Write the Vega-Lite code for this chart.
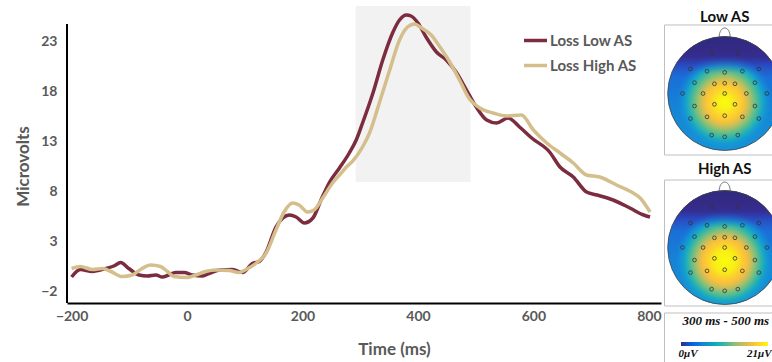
{
  "$schema": "https://vega.github.io/schema/vega-lite/v6.json",
  "padding": {"left": 14, "top": 0, "right": 0, "bottom": 0},
  "spacing": 2,
  "config": {
    "view": {"stroke": null},
    "font": "Lato",
    "axisX": {"domainColor": "#000000", "domainWidth": 2, "ticks": false, "grid": false, "labelFont": "Lato", "labelFontSize": 14, "labelFontWeight": "bold", "labelColor": "#595959", "labelPadding": 6, "titleFont": "Lato", "titleFontSize": 17, "titleFontWeight": "bold", "titleColor": "#595959", "titlePadding": 18},
    "axisY": {"domain": false, "ticks": false, "grid": false, "labelFont": "Lato", "labelFontSize": 14, "labelFontWeight": "bold", "labelColor": "#595959", "labelPadding": 10, "titleFont": "Lato", "titleFontSize": 17, "titleFontWeight": "bold", "titleColor": "#595959"}
  },
  "datasets": {
    "erp": [
      {"s": "Loss Low AS", "t": -200, "v": -0.6}, {"s": "Loss Low AS", "t": -185, "v": 0.15}, {"s": "Loss Low AS", "t": -164, "v": -0.05}, {"s": "Loss Low AS", "t": -141, "v": 0.25}, {"s": "Loss Low AS", "t": -127, "v": 0.5}, {"s": "Loss Low AS", "t": -115, "v": 0.85}, {"s": "Loss Low AS", "t": -101, "v": 0.25}, {"s": "Loss Low AS", "t": -83, "v": -0.4}, {"s": "Loss Low AS", "t": -69, "v": -0.5}, {"s": "Loss Low AS", "t": -54, "v": -0.4}, {"s": "Loss Low AS", "t": -43, "v": -0.6}, {"s": "Loss Low AS", "t": -32, "v": -0.4}, {"s": "Loss Low AS", "t": -20, "v": -0.15}, {"s": "Loss Low AS", "t": -5, "v": -0.15}, {"s": "Loss Low AS", "t": 9, "v": -0.4}, {"s": "Loss Low AS", "t": 27, "v": -0.5}, {"s": "Loss Low AS", "t": 38, "v": -0.25}, {"s": "Loss Low AS", "t": 56, "v": 0.1}, {"s": "Loss Low AS", "t": 79, "v": 0.15}, {"s": "Loss Low AS", "t": 96, "v": -0.15}, {"s": "Loss Low AS", "t": 113, "v": 0.75}, {"s": "Loss Low AS", "t": 125, "v": 0.95}, {"s": "Loss Low AS", "t": 137, "v": 1.9}, {"s": "Loss Low AS", "t": 154, "v": 4.4}, {"s": "Loss Low AS", "t": 166, "v": 5.3}, {"s": "Loss Low AS", "t": 177, "v": 5.6}, {"s": "Loss Low AS", "t": 189, "v": 5.4}, {"s": "Loss Low AS", "t": 203, "v": 4.8}, {"s": "Loss Low AS", "t": 218, "v": 5.3}, {"s": "Loss Low AS", "t": 232, "v": 7.1}, {"s": "Loss Low AS", "t": 247, "v": 8.9}, {"s": "Loss Low AS", "t": 264, "v": 10.3}, {"s": "Loss Low AS", "t": 281, "v": 11.8}, {"s": "Loss Low AS", "t": 293, "v": 13.1}, {"s": "Loss Low AS", "t": 304, "v": 14.8}, {"s": "Loss Low AS", "t": 322, "v": 17.8}, {"s": "Loss Low AS", "t": 339, "v": 21.1}, {"s": "Loss Low AS", "t": 356, "v": 23.8}, {"s": "Loss Low AS", "t": 368, "v": 25.1}, {"s": "Loss Low AS", "t": 380, "v": 25.6}, {"s": "Loss Low AS", "t": 388, "v": 25.5}, {"s": "Loss Low AS", "t": 400, "v": 24.8}, {"s": "Loss Low AS", "t": 414, "v": 23.4}, {"s": "Loss Low AS", "t": 432, "v": 21.9}, {"s": "Loss Low AS", "t": 449, "v": 21.1}, {"s": "Loss Low AS", "t": 466, "v": 19.9}, {"s": "Loss Low AS", "t": 484, "v": 18.1}, {"s": "Loss Low AS", "t": 501, "v": 16.4}, {"s": "Loss Low AS", "t": 519, "v": 15.1}, {"s": "Loss Low AS", "t": 536, "v": 14.8}, {"s": "Loss Low AS", "t": 556, "v": 15.3}, {"s": "Loss Low AS", "t": 576, "v": 14.4}, {"s": "Loss Low AS", "t": 597, "v": 13.3}, {"s": "Loss Low AS", "t": 628, "v": 11.9}, {"s": "Loss Low AS", "t": 646, "v": 10.4}, {"s": "Loss Low AS", "t": 669, "v": 9.4}, {"s": "Loss Low AS", "t": 692, "v": 7.9}, {"s": "Loss Low AS", "t": 710, "v": 7.6}, {"s": "Loss Low AS", "t": 738, "v": 7.1}, {"s": "Loss Low AS", "t": 767, "v": 6.3}, {"s": "Loss Low AS", "t": 791, "v": 5.6}, {"s": "Loss Low AS", "t": 802, "v": 5.4},
      {"s": "Loss High AS", "t": -200, "v": 0.25}, {"s": "Loss High AS", "t": -185, "v": 0.45}, {"s": "Loss High AS", "t": -164, "v": 0.15}, {"s": "Loss High AS", "t": -146, "v": 0.25}, {"s": "Loss High AS", "t": -132, "v": -0.05}, {"s": "Loss High AS", "t": -112, "v": -0.55}, {"s": "Loss High AS", "t": -95, "v": -0.4}, {"s": "Loss High AS", "t": -78, "v": 0.25}, {"s": "Loss High AS", "t": -63, "v": 0.6}, {"s": "Loss High AS", "t": -46, "v": 0.45}, {"s": "Loss High AS", "t": -34, "v": -0.05}, {"s": "Loss High AS", "t": -23, "v": -0.55}, {"s": "Loss High AS", "t": 1, "v": -0.65}, {"s": "Loss High AS", "t": 15, "v": -0.4}, {"s": "Loss High AS", "t": 32, "v": -0.05}, {"s": "Loss High AS", "t": 50, "v": 0.1}, {"s": "Loss High AS", "t": 73, "v": 0.05}, {"s": "Loss High AS", "t": 90, "v": -0.15}, {"s": "Loss High AS", "t": 102, "v": 0.15}, {"s": "Loss High AS", "t": 119, "v": 0.75}, {"s": "Loss High AS", "t": 137, "v": 1.8}, {"s": "Loss High AS", "t": 154, "v": 4.1}, {"s": "Loss High AS", "t": 168, "v": 5.9}, {"s": "Loss High AS", "t": 183, "v": 6.8}, {"s": "Loss High AS", "t": 194, "v": 6.6}, {"s": "Loss High AS", "t": 209, "v": 5.9}, {"s": "Loss High AS", "t": 220, "v": 6.1}, {"s": "Loss High AS", "t": 235, "v": 7.3}, {"s": "Loss High AS", "t": 252, "v": 8.8}, {"s": "Loss High AS", "t": 264, "v": 9.6}, {"s": "Loss High AS", "t": 276, "v": 10.4}, {"s": "Loss High AS", "t": 287, "v": 11.0}, {"s": "Loss High AS", "t": 304, "v": 12.4}, {"s": "Loss High AS", "t": 316, "v": 13.8}, {"s": "Loss High AS", "t": 333, "v": 16.8}, {"s": "Loss High AS", "t": 351, "v": 20.1}, {"s": "Loss High AS", "t": 368, "v": 23.1}, {"s": "Loss High AS", "t": 382, "v": 24.4}, {"s": "Loss High AS", "t": 394, "v": 24.7}, {"s": "Loss High AS", "t": 406, "v": 24.3}, {"s": "Loss High AS", "t": 423, "v": 23.6}, {"s": "Loss High AS", "t": 438, "v": 22.4}, {"s": "Loss High AS", "t": 455, "v": 20.9}, {"s": "Loss High AS", "t": 472, "v": 19.1}, {"s": "Loss High AS", "t": 487, "v": 17.4}, {"s": "Loss High AS", "t": 507, "v": 16.3}, {"s": "Loss High AS", "t": 530, "v": 15.8}, {"s": "Loss High AS", "t": 553, "v": 15.5}, {"s": "Loss High AS", "t": 579, "v": 15.6}, {"s": "Loss High AS", "t": 600, "v": 14.1}, {"s": "Loss High AS", "t": 623, "v": 12.8}, {"s": "Loss High AS", "t": 646, "v": 11.8}, {"s": "Loss High AS", "t": 669, "v": 10.8}, {"s": "Loss High AS", "t": 692, "v": 9.6}, {"s": "Loss High AS", "t": 715, "v": 9.4}, {"s": "Loss High AS", "t": 744, "v": 8.6}, {"s": "Loss High AS", "t": 770, "v": 7.9}, {"s": "Loss High AS", "t": 785, "v": 7.3}, {"s": "Loss High AS", "t": 802, "v": 5.9}
    ],
    "electrodes": [
      {"u": -0.227, "v": 0.71}, {"u": 0.227, "v": 0.71},
      {"u": -0.6, "v": 0.43}, {"u": -0.31, "v": 0.39}, {"u": 0, "v": 0.37}, {"u": 0.31, "v": 0.39}, {"u": 0.6, "v": 0.43},
      {"u": -0.53, "v": 0.19}, {"u": -0.18, "v": 0.17}, {"u": 0, "v": 0.18}, {"u": 0.18, "v": 0.17}, {"u": 0.53, "v": 0.19},
      {"u": -0.74, "v": 0}, {"u": -0.38, "v": 0}, {"u": 0, "v": 0}, {"u": 0.38, "v": 0}, {"u": 0.74, "v": 0},
      {"u": -0.53, "v": -0.22}, {"u": -0.18, "v": -0.19}, {"u": 0.18, "v": -0.19}, {"u": 0.53, "v": -0.22},
      {"u": -0.6, "v": -0.44}, {"u": -0.31, "v": -0.41}, {"u": 0, "v": -0.39}, {"u": 0.31, "v": -0.41}, {"u": 0.6, "v": -0.44},
      {"u": -0.23, "v": -0.73}, {"u": 0, "v": -0.76}, {"u": 0.23, "v": -0.73}
    ]
  },
  "hconcat": [
    {
      "width": 594,
      "height": 303,
      "layer": [
        {
          "data": {"values": [{"start": 292, "end": 491, "lo": 8.9, "hi": 26.5}]},
          "mark": {"type": "rect", "color": "#F2F2F2"},
          "encoding": {
            "x": {"field": "start", "type": "quantitative", "title": "Time (ms)", "scale": {"domain": [-208, 821], "nice": false, "zero": false}, "axis": {"values": [-200, 0, 200, 400, 600, 800], "titleX": 327}},
            "x2": {"field": "end"},
            "y": {"field": "lo", "type": "quantitative", "title": "Microvolts", "scale": {"domain": [-3.2, 27.1], "nice": false, "zero": false}, "axis": {"values": [-2, 3, 8, 13, 18, 23], "titleX": -35, "titleY": 166}},
            "y2": {"field": "hi"}
          }
        },
        {
          "data": {"values": [{"t0": -208, "ylo": -3.2, "yhi": 24.7}]},
          "mark": {"type": "rule", "color": "#000000", "strokeWidth": 2},
          "encoding": {
            "x": {"field": "t0", "type": "quantitative", "title": "Time (ms)"},
            "y": {"field": "ylo", "type": "quantitative", "title": "Microvolts"},
            "y2": {"field": "yhi"}
          }
        },
        {
          "data": {"name": "erp"},
          "transform": [{"filter": "datum.s === 'Loss Low AS'"}],
          "mark": {"type": "line", "strokeWidth": 3.5, "interpolate": "monotone"},
          "encoding": {
            "x": {"field": "t", "type": "quantitative", "title": "Time (ms)"},
            "y": {"field": "v", "type": "quantitative", "title": "Microvolts"},
            "color": {"field": "s", "type": "nominal", "scale": {"domain": ["Loss Low AS", "Loss High AS"], "range": ["#7B2C3F", "#D4BF8C"]},
              "legend": {"orient": "none", "legendX": 455, "legendY": 27, "title": null, "symbolType": "stroke", "symbolSize": 529, "symbolStrokeWidth": 3.5, "labelFont": "Lato", "labelFontSize": 15, "labelFontWeight": "bold", "labelColor": "#595959", "labelOffset": 1, "rowPadding": 3, "padding": 0}}
          }
        },
        {
          "data": {"name": "erp"},
          "transform": [{"filter": "datum.s === 'Loss High AS'"}],
          "mark": {"type": "line", "strokeWidth": 3.5, "interpolate": "monotone"},
          "encoding": {
            "x": {"field": "t", "type": "quantitative", "title": "Time (ms)"},
            "y": {"field": "v", "type": "quantitative", "title": "Microvolts"},
            "color": {"field": "s", "type": "nominal", "scale": {"domain": ["Loss Low AS", "Loss High AS"], "range": ["#7B2C3F", "#D4BF8C"]},
              "legend": {"orient": "none", "legendX": 455, "legendY": 27, "title": null, "symbolType": "stroke", "symbolSize": 529, "symbolStrokeWidth": 3.5, "labelFont": "Lato", "labelFontSize": 15, "labelFontWeight": "bold", "labelColor": "#595959", "labelOffset": 1, "rowPadding": 3, "padding": 0}}
          }
        }
      ]
    },
    {
      "spacing": 0,
      "vconcat": [
        {
          "width": 108,
          "height": 157,
          "encoding": {
            "x": {"field": "u", "type": "quantitative", "axis": null, "scale": {"domain": [-1.065, 0.83], "nice": false, "zero": false}},
            "y": {"field": "v", "type": "quantitative", "axis": null, "scale": {"domain": [-1.114, 1.64], "nice": false, "zero": false}}
          },
          "layer": [
            {"data": {"values": [{"u": -1.056, "u2": 1.3, "v": -1.079, "v2": 1.202}]}, "mark": {"type": "rect", "fill": "#ffffff", "stroke": "#BFBFBF", "strokeWidth": 1, "clip": true}, "encoding": {"x2": {"field": "u2"}, "y2": {"field": "v2"}}},
            {"data": {"values": [{"u": 0, "v": 1.342, "label": "Low AS"}]}, "mark": {"type": "text", "font": "Lato", "fontSize": 15, "fontWeight": "bold", "color": "#111111"}, "encoding": {"text": {"field": "label"}}},
            {"data": {"values": [{"u": 0, "v": 0}]}, "mark": {"type": "point", "shape": "circle", "size": 12996, "filled": true, "opacity": 1, "strokeWidth": 0, "clip": true,
              "fill": {"gradient": "linear", "x1": 0, "y1": 0, "x2": 0, "y2": 1, "stops": [{"offset": 0, "color": "#2e2a7f"}, {"offset": 0.12, "color": "#352a87"}, {"offset": 0.18, "color": "#34309a"}, {"offset": 0.26, "color": "#2a50c4"}, {"offset": 0.36, "color": "#1a6fd8"}, {"offset": 0.6, "color": "#1582d6"}, {"offset": 1, "color": "#1694d6"}]}}},
            {"data": {"values": [{"u": 0, "v": 0}]}, "mark": {"type": "point", "shape": "circle", "size": 12996, "filled": true, "opacity": 1, "strokeWidth": 0, "clip": true,
              "fill": {"gradient": "radial", "x1": 0.5, "y1": 0.58, "r1": 0, "x2": 0.5, "y2": 0.58, "r2": 0.5, "stops": [{"offset": 0, "color": "#f9fb0e"}, {"offset": 0.1, "color": "#f8f414"}, {"offset": 0.22, "color": "#fbd92a"}, {"offset": 0.32, "color": "#fcc535"}, {"offset": 0.42, "color": "#c9bf58"}, {"offset": 0.5, "color": "#82c078"}, {"offset": 0.58, "color": "#45b99c"}, {"offset": 0.66, "color": "#18aac4"}, {"offset": 0.76, "color": "rgba(20,150,215,0.5)"}, {"offset": 0.86, "color": "rgba(20,130,212,0)"}, {"offset": 1, "color": "rgba(20,130,212,0)"}]}}},
            {"data": {"values": [{"u": 0, "v": 0}]}, "mark": {"type": "point", "shape": "circle", "size": 12996, "filled": true, "opacity": 1, "strokeWidth": 0, "clip": true,
              "fill": {"gradient": "linear", "x1": 0, "y1": 0, "x2": 0, "y2": 1, "stops": [{"offset": 0, "color": "rgba(46,42,127,1)"}, {"offset": 0.12, "color": "rgba(53,42,135,1)"}, {"offset": 0.18, "color": "rgba(53,45,145,0.85)"}, {"offset": 0.25, "color": "rgba(40,70,190,0.45)"}, {"offset": 0.32, "color": "rgba(30,100,210,0)"}, {"offset": 1, "color": "rgba(30,100,210,0)"}]}}},
            {"data": {"values": [{"u": 0, "v": 0}]}, "mark": {"type": "point", "shape": "circle", "size": 12996, "filled": false, "opacity": 1, "stroke": "#444444", "strokeWidth": 0.8, "clip": true}},
            {"data": {"values": [{"u": 0, "v": 1.079}]}, "mark": {"type": "point", "shape": "M -1 1 C -1 -1.3 1 -1.3 1 1", "size": 121, "filled": false, "opacity": 1, "stroke": "#555555", "strokeWidth": 0.8}},
            {"data": {"name": "electrodes"}, "mark": {"type": "point", "shape": "circle", "size": 14, "filled": false, "opacity": 1, "stroke": "#333333", "strokeWidth": 0.8, "clip": true}}
          ]
        },
        {
          "width": 108,
          "height": 151,
          "encoding": {
            "x": {"field": "u", "type": "quantitative", "axis": null, "scale": {"domain": [-1.065, 0.83], "nice": false, "zero": false}},
            "y": {"field": "v", "type": "quantitative", "axis": null, "scale": {"domain": [-1.061, 1.588], "nice": false, "zero": false}}
          },
          "layer": [
            {"data": {"values": [{"u": -1.056, "u2": 1.3, "v": -1.026, "v2": 1.184}]}, "mark": {"type": "rect", "fill": "#ffffff", "stroke": "#BFBFBF", "strokeWidth": 1, "clip": true}, "encoding": {"x2": {"field": "u2"}, "y2": {"field": "v2"}}},
            {"data": {"values": [{"u": 0, "v": 1.377, "label": "High AS"}]}, "mark": {"type": "text", "font": "Lato", "fontSize": 15, "fontWeight": "bold", "color": "#111111"}, "encoding": {"text": {"field": "label"}}},
            {"data": {"values": [{"u": 0, "v": 0}]}, "mark": {"type": "point", "shape": "circle", "size": 12996, "filled": true, "opacity": 1, "strokeWidth": 0, "clip": true,
              "fill": {"gradient": "linear", "x1": 0, "y1": 0, "x2": 0, "y2": 1, "stops": [{"offset": 0, "color": "#2e2a7f"}, {"offset": 0.12, "color": "#352a87"}, {"offset": 0.18, "color": "#34309a"}, {"offset": 0.26, "color": "#2a50c4"}, {"offset": 0.36, "color": "#1a6fd8"}, {"offset": 0.6, "color": "#1582d6"}, {"offset": 1, "color": "#1694d6"}]}}},
            {"data": {"values": [{"u": 0, "v": 0}]}, "mark": {"type": "point", "shape": "circle", "size": 12996, "filled": true, "opacity": 1, "strokeWidth": 0, "clip": true,
              "fill": {"gradient": "radial", "x1": 0.5, "y1": 0.62, "r1": 0, "x2": 0.5, "y2": 0.62, "r2": 0.5, "stops": [{"offset": 0, "color": "#f9fb0e"}, {"offset": 0.18, "color": "#f8f014"}, {"offset": 0.3, "color": "#fcd02e"}, {"offset": 0.4, "color": "#f6bd40"}, {"offset": 0.48, "color": "#bcbf5f"}, {"offset": 0.56, "color": "#74be83"}, {"offset": 0.63, "color": "#38b7a2"}, {"offset": 0.7, "color": "#15a6c8"}, {"offset": 0.8, "color": "rgba(20,150,215,0.5)"}, {"offset": 0.88, "color": "rgba(20,130,212,0)"}, {"offset": 1, "color": "rgba(20,130,212,0)"}]}}},
            {"data": {"values": [{"u": 0, "v": 0}]}, "mark": {"type": "point", "shape": "circle", "size": 12996, "filled": true, "opacity": 1, "strokeWidth": 0, "clip": true,
              "fill": {"gradient": "linear", "x1": 0, "y1": 0, "x2": 0, "y2": 1, "stops": [{"offset": 0, "color": "rgba(46,42,127,1)"}, {"offset": 0.12, "color": "rgba(53,42,135,1)"}, {"offset": 0.18, "color": "rgba(53,45,145,0.85)"}, {"offset": 0.25, "color": "rgba(40,70,190,0.45)"}, {"offset": 0.32, "color": "rgba(30,100,210,0)"}, {"offset": 1, "color": "rgba(30,100,210,0)"}]}}},
            {"data": {"values": [{"u": 0, "v": 0}]}, "mark": {"type": "point", "shape": "circle", "size": 12996, "filled": false, "opacity": 1, "stroke": "#444444", "strokeWidth": 0.8, "clip": true}},
            {"data": {"values": [{"u": 0, "v": 1.079}]}, "mark": {"type": "point", "shape": "M -1 1 C -1 -1.3 1 -1.3 1 1", "size": 121, "filled": false, "opacity": 1, "stroke": "#555555", "strokeWidth": 0.8}},
            {"data": {"name": "electrodes"}, "mark": {"type": "point", "shape": "circle", "size": 14, "filled": false, "opacity": 1, "stroke": "#333333", "strokeWidth": 0.8, "clip": true}}
          ]
        },
        {
          "width": 108,
          "height": 54,
          "encoding": {
            "x": {"field": "u", "type": "quantitative", "axis": null, "scale": {"domain": [-4.1, 21.96], "nice": false, "zero": false}},
            "y": {"field": "v", "type": "quantitative", "axis": null, "scale": {"domain": [0, 54], "nice": false, "zero": false, "reverse": true}}
          },
          "layer": [
            {"data": {"values": [{"u": -3.98, "u2": 30, "v": 5, "v2": 70}]}, "mark": {"type": "rect", "fill": "#ffffff", "stroke": "#BFBFBF", "strokeWidth": 1, "clip": true}, "encoding": {"x2": {"field": "u2"}, "y2": {"field": "v2"}}},
            {"data": {"values": [{"u": 10.8, "v": 13, "label": "300 ms - 500 ms"}]}, "mark": {"type": "text", "font": "Liberation Serif", "fontSize": 13, "fontWeight": "bold", "fontStyle": "italic", "color": "#111111"}, "encoding": {"text": {"field": "label"}}},
            {"data": {"values": [{"u": 0, "u2": 21, "v": 34, "v2": 38}]}, "mark": {"type": "rect", "strokeWidth": 0,
              "fill": {"gradient": "linear", "x1": 0, "y1": 0, "x2": 1, "y2": 0, "stops": [{"offset": 0, "color": "#352a87"}, {"offset": 0.125, "color": "#0363e1"}, {"offset": 0.25, "color": "#1485d4"}, {"offset": 0.375, "color": "#06a7c6"}, {"offset": 0.5, "color": "#38b99e"}, {"offset": 0.625, "color": "#92bf73"}, {"offset": 0.75, "color": "#d9ba56"}, {"offset": 0.875, "color": "#fcce2e"}, {"offset": 1, "color": "#f9fb0e"}]}},
              "encoding": {"x2": {"field": "u2"}, "y2": {"field": "v2"}}},
            {"data": {"values": [{"u": 1.7, "v": 46, "label": "0μV"}, {"u": 18.9, "v": 46, "label": "21μV"}]}, "mark": {"type": "text", "font": "Liberation Serif", "fontSize": 11, "fontWeight": "bold", "fontStyle": "italic", "color": "#111111"}, "encoding": {"text": {"field": "label"}}}
          ]
        }
      ]
    }
  ]
}
